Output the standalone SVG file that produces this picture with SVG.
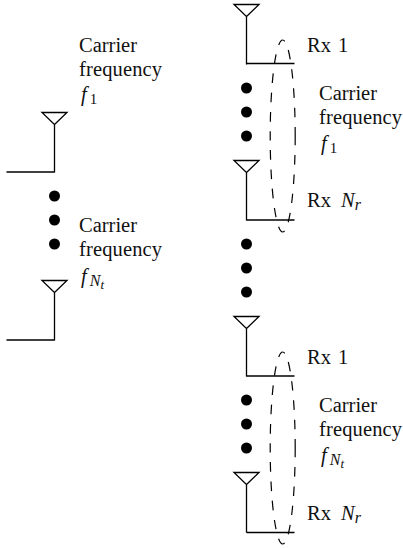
<svg xmlns="http://www.w3.org/2000/svg" width="403" height="548" viewBox="0 0 403 548">
<style>
.l{fill:none;stroke:#000;stroke-width:1.3}
.d{fill:#000}
.e{fill:none;stroke:#000;stroke-width:1.2;stroke-dasharray:9.5 9.69}
text{font-family:"Liberation Serif","Times New Roman",serif;font-size:20.5px;fill:#111}
.i{font-style:italic}
.s{font-size:15px}
.si{font-size:16px;font-style:italic}
.t{font-size:13px;font-style:italic}
</style>
<defs>
<path id="ant" class="l" d="M0 60V12L-12.5 0H12.5L0 12"/>
</defs>
<g id="connectors">
<path class="l" d="M6.5 172H54.5"/>
<path class="l" d="M6.5 340H54.5"/>
<path class="l" d="M246.5 63.5H294.5"/>
<path class="l" d="M246.5 220H294.5"/>
<path class="l" d="M246.5 376H294.5"/>
<path class="l" d="M246.5 532.5H294.5"/>
<ellipse class="e" cx="282.7" cy="136" rx="12.5" ry="96"/>
<ellipse class="e" cx="282.7" cy="448" rx="12.5" ry="96"/>
</g>
<g id="tx1"><use href="#ant" x="54.5" y="112.5"/></g>
<g id="tx2"><use href="#ant" x="54.5" y="280.5"/></g>
<g id="rx1"><use href="#ant" x="246.5" y="4.5"/></g>
<g id="rx2"><use href="#ant" x="246.5" y="160.5"/></g>
<g id="rx3"><use href="#ant" x="246.5" y="316.5"/></g>
<g id="rx4"><use href="#ant" x="246.5" y="472.5"/></g>
<g id="dots">
<circle class="d" cx="54.5" cy="196" r="5.5"/><circle class="d" cx="54.5" cy="220" r="5.5"/><circle class="d" cx="54.5" cy="244" r="5.5"/>
<circle class="d" cx="246.5" cy="88" r="5.5"/><circle class="d" cx="246.5" cy="112" r="5.5"/><circle class="d" cx="246.5" cy="136" r="5.5"/>
<circle class="d" cx="246.5" cy="244" r="5.5"/><circle class="d" cx="246.5" cy="268" r="5.5"/><circle class="d" cx="246.5" cy="292" r="5.5"/>
<circle class="d" cx="246.5" cy="400" r="5.5"/><circle class="d" cx="246.5" cy="424" r="5.5"/><circle class="d" cx="246.5" cy="448" r="5.5"/>
</g>
<g id="label-tx1">
<text x="79" y="52">Carrier</text>
<text x="79" y="76" textLength="83">frequency</text>
<text x="81" y="101" class="i">f<tspan class="s" font-style="normal" dx="3" dy="3">1</tspan></text>
</g>
<g id="label-tx2">
<text x="79" y="232">Carrier</text>
<text x="79" y="256" textLength="83">frequency</text>
<text x="81" y="283" class="i">f<tspan class="si" dx="3" dy="3">N</tspan><tspan class="t" dy="3">t</tspan></text>
</g>
<g id="label-rx1">
<text x="307" y="52">Rx <tspan dx="2">1</tspan></text>
<text x="319" y="100">Carrier</text>
<text x="319" y="124" textLength="83">frequency</text>
<text x="321" y="150" class="i">f<tspan class="s" font-style="normal" dx="3" dy="3">1</tspan></text>
<text x="307" y="207">Rx <tspan class="i" dx="5">N</tspan><tspan class="si" dy="3">r</tspan></text>
</g>
<g id="label-rx2">
<text x="307" y="364">Rx <tspan dx="2">1</tspan></text>
<text x="319" y="412">Carrier</text>
<text x="319" y="436" textLength="83">frequency</text>
<text x="321" y="462" class="i">f<tspan class="si" dx="3" dy="3">N</tspan><tspan class="t" dy="3">t</tspan></text>
<text x="307" y="520">Rx <tspan class="i" dx="5">N</tspan><tspan class="si" dy="3">r</tspan></text>
</g>
</svg>
